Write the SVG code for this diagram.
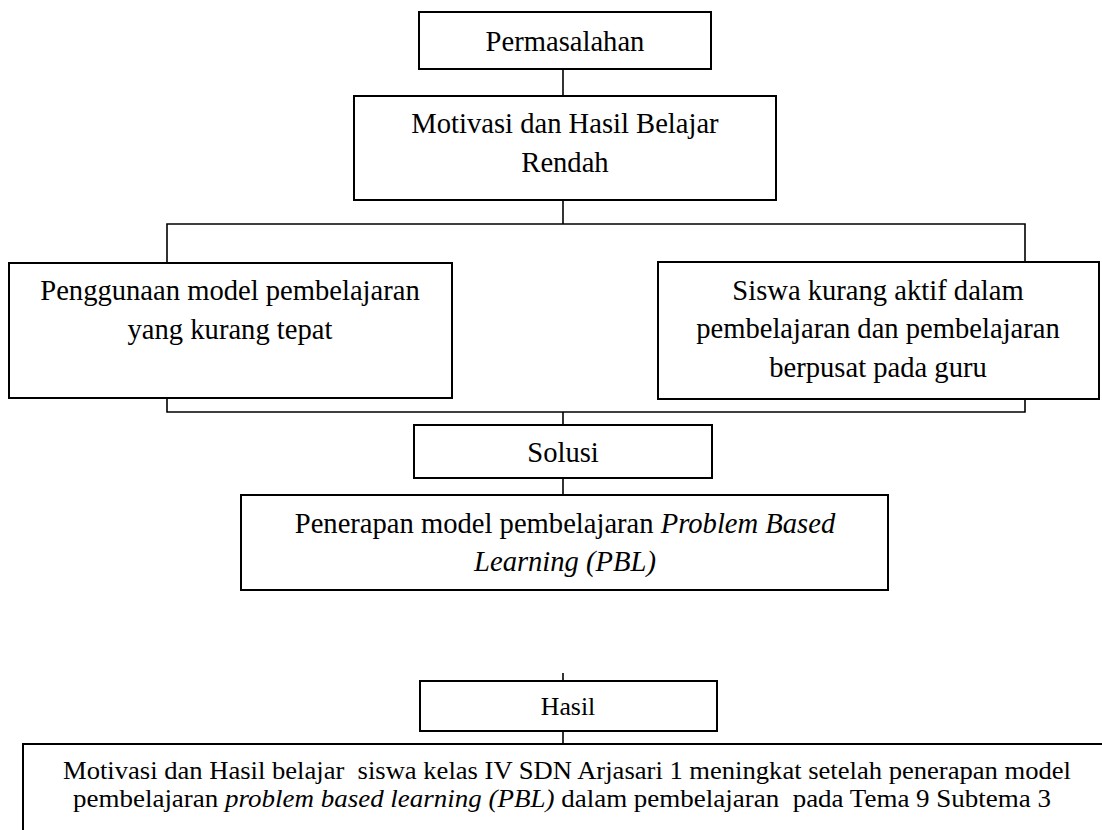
<svg xmlns="http://www.w3.org/2000/svg" width="1102" height="830" viewBox="0 0 1102 830">
<style>
.box{fill:#fff;stroke:#000;stroke-width:2}
.ln{fill:none;stroke:#000;stroke-width:1.6}
.t{font-size:28.6px}
.s{font-size:25.8px}
.i{font-style:italic}
</style>
<rect width="1102" height="830" fill="#fff"/>
<g id="connectors">
<line class="ln" x1="563" y1="69" x2="563" y2="96"/>
<line class="ln" x1="563" y1="200" x2="563" y2="224"/>
<polyline class="ln" points="167,263 167,224 1025,224 1025,262"/>
<polyline class="ln" points="167,398 167,412 1025,412 1025,399"/>
<line class="ln" x1="563" y1="412" x2="563" y2="425"/>
<line class="ln" x1="563" y1="478" x2="563" y2="495"/>
<line class="ln" x1="563" y1="673" x2="563" y2="681"/>
<line class="ln" x1="563" y1="731" x2="563" y2="744"/>
</g>
<g font-family="Liberation Serif, Times New Roman, serif" fill="#000" text-anchor="middle">
<g id="permasalahan">
<rect class="box" x="419" y="12" width="292" height="57"/>
<text class="t" x="565" y="51">Permasalahan</text>
</g>
<g id="motivasi">
<rect class="box" x="354" y="96" width="422" height="104"/>
<text class="t" x="565" y="133">Motivasi dan Hasil Belajar</text>
<text class="t" x="565" y="172">Rendah</text>
</g>
<g id="penggunaan">
<rect class="box" x="9" y="263" width="443" height="135"/>
<text class="t" x="230" y="300">Penggunaan model pembelajaran</text>
<text class="t" x="230" y="339">yang kurang tepat</text>
</g>
<g id="siswa">
<rect class="box" x="658" y="262" width="441" height="137"/>
<text class="t" x="878" y="300">Siswa kurang aktif dalam</text>
<text class="t" x="878" y="338">pembelajaran dan pembelajaran</text>
<text class="t" x="878" y="377">berpusat pada guru</text>
</g>
<g id="solusi">
<rect class="box" x="414" y="425" width="298" height="53"/>
<text class="t" x="563" y="462">Solusi</text>
</g>
<g id="penerapan">
<rect class="box" x="241" y="495" width="647" height="95"/>
<text class="t" x="565" y="533">Penerapan model pembelajaran <tspan class="i">Problem Based</tspan></text>
<text class="t i" x="565" y="571">Learning (PBL)</text>
</g>
<g id="hasil">
<rect class="box" x="420" y="681" width="297" height="50"/>
<text class="s" x="568" y="715">Hasil</text>
</g>
<g id="kesimpulan">
<rect class="box" x="23" y="744" width="1100" height="100"/>
<text class="s" x="567" y="779" textLength="1008" lengthAdjust="spacingAndGlyphs" xml:space="preserve">Motivasi dan Hasil belajar  siswa kelas IV SDN Arjasari 1 meningkat setelah penerapan model</text>
<text class="s" x="562" y="807" textLength="978" lengthAdjust="spacingAndGlyphs" xml:space="preserve">pembelajaran <tspan class="i">problem based learning (PBL)</tspan> dalam pembelajaran  pada Tema 9 Subtema 3</text>
</g>
</g>
</svg>
